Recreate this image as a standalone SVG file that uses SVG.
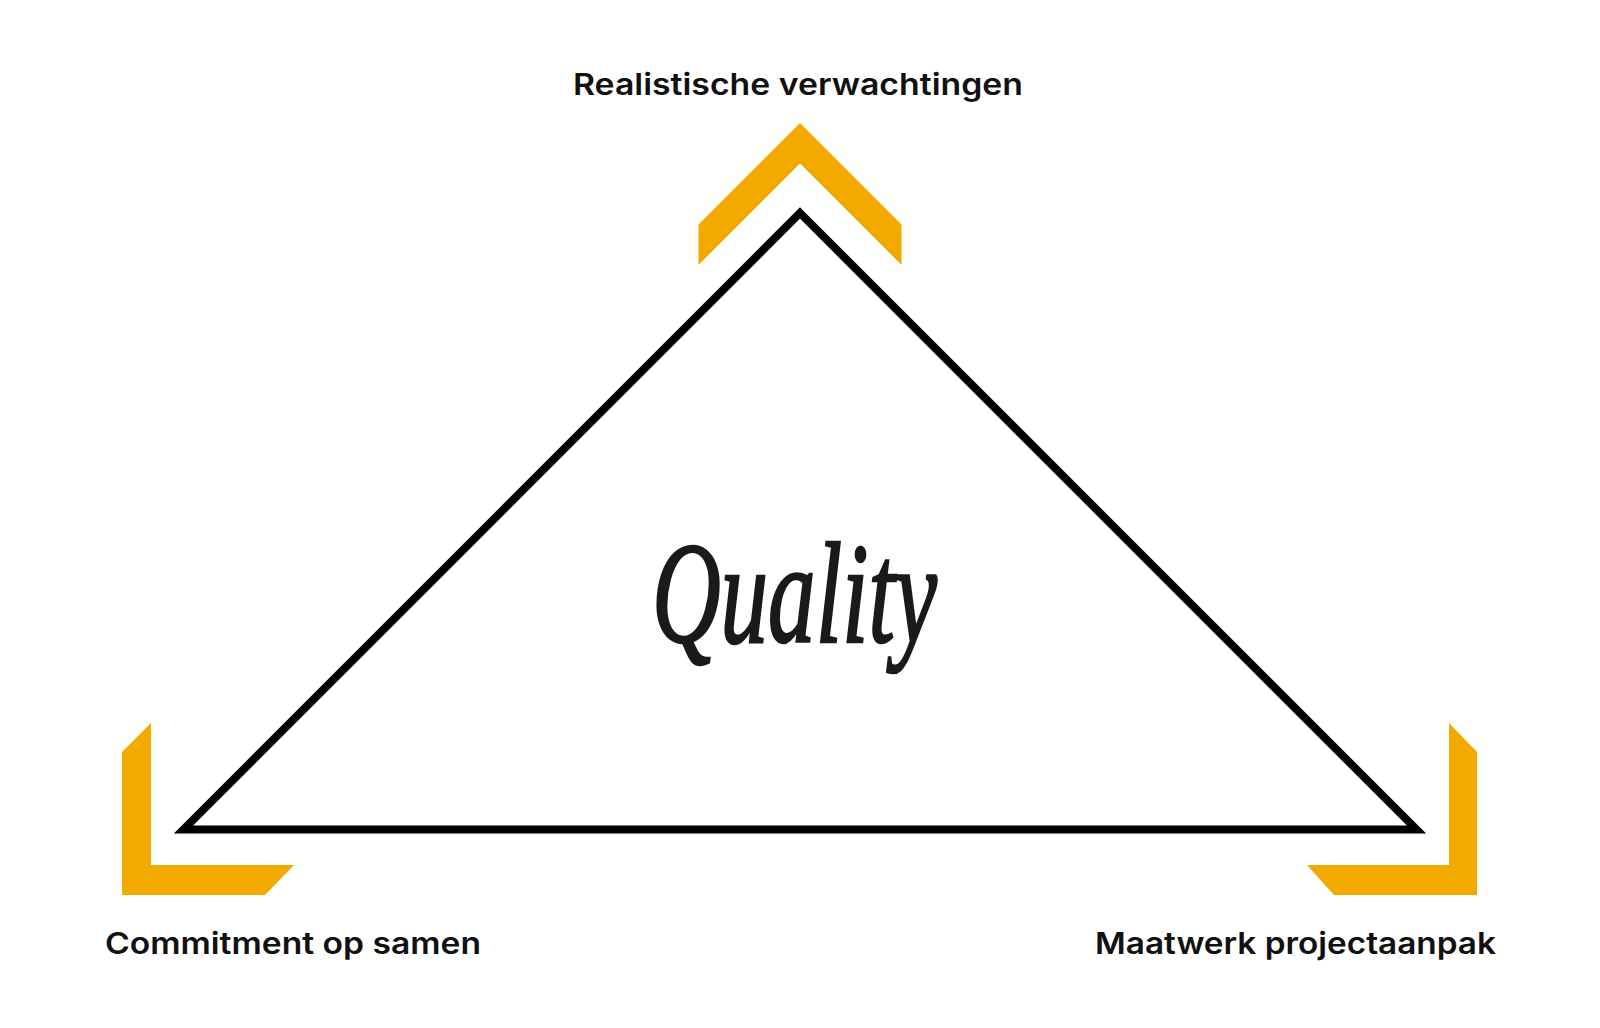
<svg xmlns="http://www.w3.org/2000/svg" width="1600" height="1028" viewBox="0 0 1600 1028">
<style>
.accent{fill:#F2AA00;}
.label{font-family:Inter,"Noto Sans","Liberation Sans",sans-serif;font-weight:600;font-size:30px;fill:#111;}
.tri{fill:none;stroke:#000;stroke-width:8;stroke-linejoin:miter;stroke-miterlimit:4;}
.script{font-family:"Liberation Serif","DejaVu Serif",serif;font-style:italic;font-size:145px;fill:#1a1a1a;stroke:#1a1a1a;stroke-width:2.5;}
</style>
<rect width="1600" height="1028" fill="#fff"/>
<g id="connectors">
<polygon class="tri" points="800,213 1416.5,829.5 183.5,829.5"/>
</g>
<g id="top">
<polygon class="accent" points="800,123 901.5,224.5 901.5,265 800,163.5 698.5,265 698.5,224.5"/>
<text class="label" x="573" y="95" textLength="450" lengthAdjust="spacingAndGlyphs">Realistische verwachtingen</text>
</g>
<g id="bottom-left">
<polygon class="accent" points="122,752 151,723 151,865 294,865 265,895 122,895"/>
<text class="label" x="105" y="954" textLength="376" lengthAdjust="spacingAndGlyphs">Commitment op samen</text>
</g>
<g id="bottom-right">
<polygon class="accent" points="1449,723 1477,752 1477,895 1334,895 1307,865 1449,865"/>
<text class="label" x="1095" y="954" textLength="401" lengthAdjust="spacingAndGlyphs">Maatwerk projectaanpak</text>
</g>
<g id="center">
<text class="script" x="652" y="642" textLength="285" lengthAdjust="spacingAndGlyphs">Quality</text>
</g>
</svg>
